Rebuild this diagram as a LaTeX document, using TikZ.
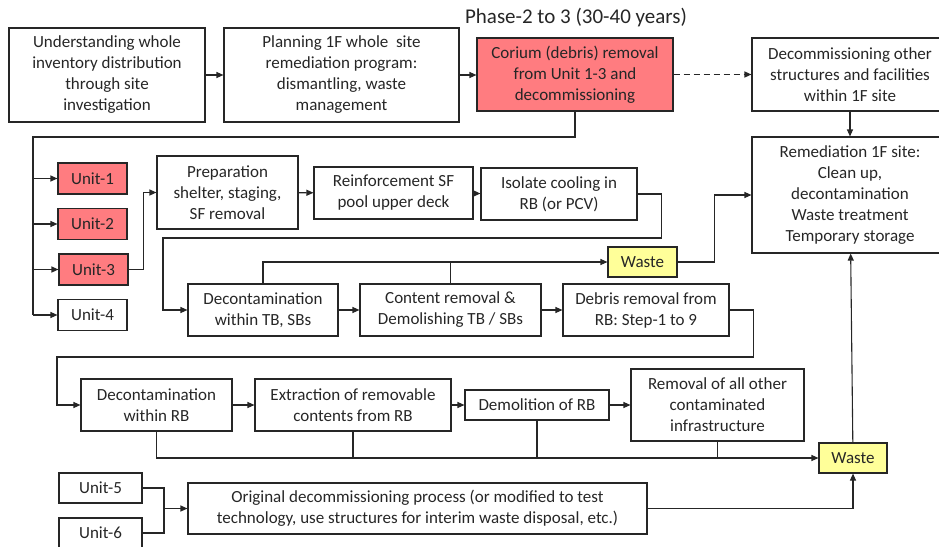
\documentclass[tikz,border=0pt]{standalone}
\usepackage{fontspec}
\setmainfont{Carlito}
\usepackage{tikz}
\usetikzlibrary{arrows.meta}

\definecolor{corred}{HTML}{FF7C80}
\definecolor{wasteyellow}{HTML}{FFFF99}
\definecolor{inkgray}{HTML}{262626}

\begin{document}
\begin{tikzpicture}[x=1pt, y=-1pt, line width=1.1pt, draw=inkgray,
  every node/.style={draw=inkgray, line width=1.1pt, align=center, inner sep=0pt,
    text=inkgray, font=\fontsize{17}{21}\selectfont},
  redbox/.style={fill=corred},
  wastebox/.style={fill=wasteyellow, minimum width=69, minimum height=30},
  unitbox/.style={minimum width=69, minimum height=31},
  arr/.style={-{Triangle[length=7pt, width=6pt]}}]
  \useasboundingbox (0,0) rectangle (939,546);
  \clip (0,0) rectangle (939,546);

  \node[draw=none, font=\fontsize{21}{25}\selectfont] (title) at (576,18) {Phase-2 to 3 (30-40 years)};

  % top row
  \node[minimum width=196, minimum height=94] (und)  at (107,75)   {Understanding whole\\inventory distribution\\through site\\investigation};
  \node[minimum width=235, minimum height=94] (plan) at (341.5,75) {Planning 1F whole\ \ site\\remediation program:\\dismantling, waste\\management};
  \node[redbox, minimum width=196, minimum height=73] (cor) at (575,74.5) {Corium (debris) removal\\from Unit 1-3 and\\decommissioning};
  \node[minimum width=196, minimum height=73] (oth) at (850,74.5) {Decommissioning other\\structures and facilities\\within 1F site};
  \node[minimum width=196, minimum height=116] (rem) at (850,195) {Remediation 1F site:\\Clean up,\\decontamination\\Waste treatment\\Temporary storage};

  % units
  \node[unitbox, redbox] (u1) at (92.5,178.5) {Unit-1};
  \node[unitbox, redbox] (u2) at (92.5,224)   {Unit-2};
  \node[unitbox, redbox] (u3) at (93.5,269.5) {Unit-3};
  \node[unitbox] (u4) at (92.5,315) {Unit-4};

  % unit-3 steps
  \node[minimum width=141, minimum height=73] (prep)  at (227.5,192.5) {Preparation\\shelter, staging,\\SF removal};
  \node[minimum width=159, minimum height=52] (reinf) at (393.5,193)   {Reinforcement SF\\pool upper deck};
  \node[minimum width=156, minimum height=52] (iso)   at (559,194)     {Isolate cooling in\\RB (or PCV)};
  \node[minimum width=150, minimum height=52] (dtb)   at (263,310)     {Decontamination\\within TB, SBs};
  \node[minimum width=181, minimum height=52] (crm)   at (450.5,310)   {Content removal \&\\Demolishing TB / SBs};
  \node[minimum width=166, minimum height=52] (drb)   at (646,310)     {Debris removal from\\RB: Step-1 to 9};
  \node[wastebox] (w1) at (642.5,262) {Waste};

  \node[minimum width=151, minimum height=52] (drbx) at (156.5,405) {Decontamination\\within RB};
  \node[minimum width=196, minimum height=52] (ext)  at (353,405)   {Extraction of removable\\contents from RB};
  \node[minimum width=144, minimum height=30] (dem)  at (537,405)   {Demolition of RB};
  \node[minimum width=173, minimum height=72] (ral)  at (717.5,405) {Removal of all other\\contaminated\\infrastructure};
  \node[wastebox, minimum width=68] (w2) at (853,458) {Waste};

  % units 5 and 6
  \node[minimum width=83, minimum height=30] (u5) at (100.5,488) {Unit-5};
  \node[minimum width=83, minimum height=30] (u6) at (100.5,533) {Unit-6};
  \node[minimum width=459, minimum height=51] (orig) at (417.5,508.5) {Original decommissioning process (or modified to test\\technology, use structures for interim waste disposal, etc.)};

  \coordinate (bus) at (33,137);
  \coordinate (t1)  at (163,238);
  \coordinate (t2)  at (57,357);
  \coordinate (m56) at (164,508.5);

  \draw[arr] (und) -- (plan);
  \draw[arr] (plan.east) -- (cor.west |- plan.east);
  \draw[arr, dash pattern=on 6pt off 4pt] (cor) -- (oth);
  \draw[arr] (oth) -- (rem);

  \draw (cor.south) |- (bus) -- (bus |- u4.west);
  \foreach \u in {u1,u2,u3,u4}
    \draw[arr] (bus |- \u.west) -- (\u.west);

  \draw[arr] (u3.east) -- ++(15,0) |- (prep.west);
  \draw[arr] (prep) -- (reinf);
  \draw[arr] (reinf) -- (iso);
  \draw[arr] (iso.east) -- ++(24,0) |- (t1) |- (dtb.west);
  \draw[arr] (dtb) -- (crm);
  \draw[arr] (crm) -- (drb);

  \draw[arr] (dtb.north) |- (w1.west);
  \draw (crm.north) -- (crm.north |- w1.west);
  \draw[arr] (w1.east) -- ++(37,0) |- (rem.west);

  \draw[arr] (drb.east) -- ++(24,0) |- (t2) |- (drbx.west);
  \draw[arr] (drbx) -- (ext);
  \draw[arr] (ext) -- (dem);
  \draw[arr] (dem) -- (ral);

  \draw[arr] (drbx.south) |- (w2.west);
  \foreach \n in {ext,dem,ral}
    \draw (\n.south) -- (\n.south |- w2.west);
  \draw[arr] (w2) -- (rem);

  \draw (u5.east) -| (m56) |- (u6.east);
  \draw[arr] (m56) -- (orig.west);
  \draw[arr] (orig.east) -| (w2.south);
\end{tikzpicture}
\end{document}
